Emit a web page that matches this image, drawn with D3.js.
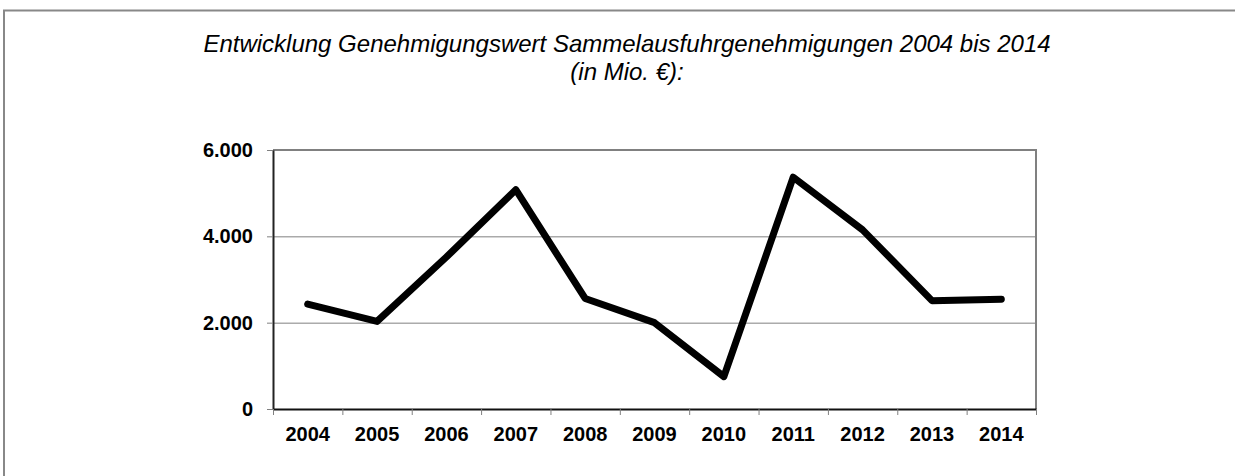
<!DOCTYPE html>
<html>
<head>
<meta charset="utf-8">
<script src="https://cdn.jsdelivr.net/npm/d3@7"></script>
<style>
  body { margin: 0; background: #fff; }
  svg { display: block; font-family: Arial, 'Liberation Sans', sans-serif; }
</style>
</head>
<body>
<svg width="1235" height="476"></svg>
<script>
const years = ['2004', '2005', '2006', '2007', '2008', '2009', '2010', '2011', '2012', '2013', '2014'];
const values = [2430, 2030, 3520, 5080, 2560, 2000, 750, 5370, 4150, 2510, 2545];
const yTicks = [0, 2000, 4000, 6000];
const titleLines = ['Entwicklung Genehmigungswert Sammelausfuhrgenehmigungen 2004 bis 2014', '(in Mio. €):'];

const width = 1235;
const height = 476;
const plot = { left: 273, right: 1036, top: 150, bottom: 409 };

const svg = d3.select('svg');

// outer frame (runs off the right and bottom edge)
svg.append('rect')
    .attr('x', 4)
    .attr('y', 10.5)
    .attr('width', width + 10)
    .attr('height', height + 10)
    .attr('fill', 'none')
    .attr('stroke', '#888')
    .attr('stroke-width', 2);

// title
svg.append('g')
    .selectAll('text')
    .data(titleLines)
    .enter()
    .append('text')
        .attr('x', 627)
        .attr('y', (d, i) => 52 + i * 28)
        .style('text-anchor', 'middle')
        .style('font-style', 'italic')
        .style('font-size', '24px')
        .text((d) => d);

const xScale = d3.scaleBand()
    .domain(years)
    .range([plot.left, plot.right]);

const xEdges = d3.scaleLinear()
    .domain([0, years.length])
    .range([plot.left, plot.right]);

const yScale = d3.scaleLinear()
    .domain([0, 6000])
    .range([plot.bottom, plot.top]);

// gridlines
svg.append('g')
    .attr('transform', `translate(${plot.left}, 0)`)
    .call(d3.axisLeft(yScale)
        .tickValues([2000, 4000])
        .tickSize(-(plot.right - plot.left))
        .tickFormat(''))
    .call((g) => g.select('.domain').remove())
    .call((g) => g.selectAll('line').attr('stroke', '#808080').attr('stroke-width', 1));

// plot frame top + right
svg.append('path')
    .attr('d', `M${plot.left},${plot.top}H${plot.right}V${plot.bottom}`)
    .attr('fill', 'none')
    .attr('stroke', '#808080')
    .attr('stroke-width', 2);

// y axis
svg.append('g')
    .attr('transform', `translate(${plot.left}, 0)`)
    .call(d3.axisLeft(yScale)
        .tickValues(yTicks)
        .tickSize(6)
        .tickPadding(14)
        .tickSizeOuter(0)
        .tickFormat((d) => d3.format(',')(d).replace(/,/g, '.')))
    .call((g) => g.select('.domain').attr('stroke', '#222').attr('stroke-width', 2))
    .call((g) => g.selectAll('line').attr('stroke', '#808080'))
    .call((g) => g.selectAll('text')
        .attr('fill', '#000')
        .style('font-size', '20px')
        .style('font-weight', 'bold')
        .style('font-family', 'Arial, "Liberation Sans", sans-serif'));

// x tick marks at category edges
svg.append('g')
    .attr('transform', `translate(0, ${plot.bottom})`)
    .call(d3.axisBottom(xEdges)
        .ticks(years.length)
        .tickSize(6)
        .tickSizeOuter(0)
        .tickFormat(''))
    .call((g) => g.select('.domain').attr('stroke', '#111').attr('stroke-width', 2))
    .call((g) => g.selectAll('line').attr('stroke', '#808080'));

// x labels
svg.append('g')
    .attr('transform', `translate(0, ${plot.bottom})`)
    .call(d3.axisBottom(xScale)
        .tickSize(0)
        .tickPadding(18))
    .call((g) => g.select('.domain').remove())
    .call((g) => g.selectAll('text')
        .attr('fill', '#000')
        .style('font-size', '20px')
        .style('font-weight', 'bold')
        .style('font-family', 'Arial, "Liberation Sans", sans-serif'));

// the line
const line = d3.line()
    .x((d, i) => xScale(years[i]) + xScale.bandwidth() / 2)
    .y((d) => yScale(d));

svg.append('path')
    .datum(values)
    .attr('d', line)
    .attr('fill', 'none')
    .attr('stroke', '#000')
    .attr('stroke-width', 7)
    .attr('stroke-linejoin', 'round')
    .attr('stroke-linecap', 'round');
</script>
</body>
</html>
